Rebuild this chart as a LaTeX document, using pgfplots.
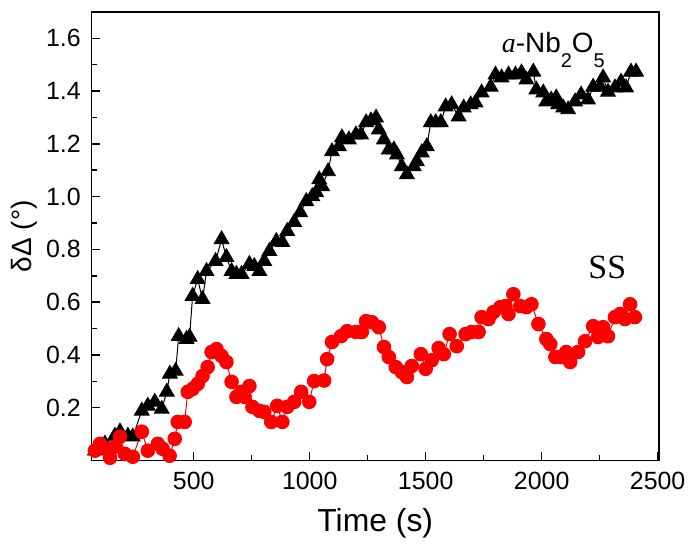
\documentclass[border=0pt]{standalone}
\usepackage{pgfplots}
\pgfplotsset{compat=1.18}
\usepackage{fontspec}
\setmainfont{Liberation Sans}
\newfontfamily\tnr{Liberation Serif}
\definecolor{ssred}{RGB}{255,0,0}

\begin{document}
\begin{tikzpicture}
\begin{axis}[
    scale only axis, width=284.5pt, height=225pt,
    xmin=60, xmax=2505, ymin=0, ymax=1.7,
    xtick={500,1000,...,2500}, minor x tick num=1,
    ytick={0.2,0.4,...,1.6}, minor y tick num=1,
    tick pos=left, tick align=inside,
    major tick length=4pt, minor tick length=2.5pt,
    axis line style={line width=0.75pt},
    every tick/.style={line width=0.75pt, black},
    /pgf/number format/assume math mode=true,
    /pgf/number format/1000 sep={},
    yticklabel style={/pgf/number format/fixed, /pgf/number format/fixed zerofill, /pgf/number format/precision=1, font=\fontsize{12.5}{15}\selectfont, xshift=-2pt},
    xticklabel style={font=\fontsize{12.5}{15}\selectfont, yshift=-2.5pt},
    xlabel={Time (s)}, xlabel style={font=\fontsize{16}{19}\selectfont, at={(axis description cs:0.5,-0.14)}, anchor=center},
    ylabel={δΔ (°)}, ylabel style={font=\fontsize{14}{17}\selectfont, at={(axis description cs:-0.118,0.5)}, anchor=center},
]
% a-Nb2O5
\addplot[black, line width=0.5pt, mark=triangle*, mark size=4.2pt, mark options={solid, fill=black}] coordinates {
(74,0.037) (117,0.063) (160,0.093) (182,0.109) (216,0.093) (237,0.090)
(276,0.188) (302,0.207) (332,0.222) (362,0.195) (384,0.260) (397,0.328)
(422,0.339) (435,0.471) (469,0.460) (482,0.468) (495,0.623) (517,0.687)
(538,0.611) (555,0.717) (594,0.755) (620,0.838) (641,0.770) (663,0.717)
(684,0.706) (706,0.706) (740,0.744) (761,0.736) (783,0.717) (804,0.755)
(826,0.793) (856,0.831) (882,0.827) (903,0.869) (933,0.903) (959,0.940)
(985,0.982) (1011,1.001) (1028,1.016) (1041,1.065) (1053,1.039) (1079,1.095)
(1096,1.171) (1126,1.190) (1139,1.224) (1169,1.216) (1199,1.235) (1221,1.235)
(1243,1.281) (1264,1.288) (1286,1.299) (1298,1.254) (1320,1.216) (1341,1.178)
(1363,1.178) (1376,1.159) (1397,1.114) (1419,1.084) (1449,1.114) (1462,1.133)
(1483,1.167) (1505,1.190) (1522,1.281) (1543,1.281) (1565,1.281) (1586,1.341)
(1612,1.349) (1642,1.303) (1664,1.337) (1694,1.349) (1715,1.356) (1741,1.394)
(1780,1.416) (1801,1.462) (1827,1.451) (1857,1.462) (1887,1.462) (1913,1.470)
(1934,1.443) (1964,1.473) (1977,1.405) (2007,1.394) (2020,1.360) (2041,1.367)
(2063,1.375) (2071,1.349) (2093,1.337) (2114,1.330) (2144,1.360) (2170,1.386)
(2200,1.367) (2222,1.416) (2252,1.416) (2265,1.451) (2286,1.397) (2316,1.413)
(2342,1.435) (2364,1.413) (2385,1.473) (2407,1.473)
};
% SS
\addplot[ssred, line width=0.5pt, mark=*, mark size=3.4pt, mark options={solid, fill=ssred, draw=ssred}] coordinates {
(74,0.037) (96,0.063) (126,0.044) (139,0.010) (160,0.052) (182,0.090)
(203,0.025) (237,0.014) (276,0.109) (302,0.037) (345,0.063) (366,0.044)
(396,0.018) (418,0.082) (431,0.146) (461,0.146) (474,0.260) (495,0.271)
(517,0.290) (538,0.320) (560,0.354) (577,0.411) (598,0.422) (620,0.396)
(641,0.373) (663,0.298) (684,0.241) (706,0.260) (719,0.241) (740,0.282)
(753,0.203) (783,0.188) (804,0.184) (834,0.146) (860,0.207) (882,0.146)
(903,0.203) (933,0.222) (963,0.260) (998,0.222) (1019,0.301) (1062,0.303)
(1075,0.384) (1096,0.449) (1135,0.471) (1161,0.490) (1199,0.487) (1225,0.487)
(1243,0.528) (1268,0.524) (1298,0.505) (1320,0.430) (1341,0.392) (1371,0.354)
(1397,0.335) (1419,0.316) (1440,0.358) (1479,0.403) (1500,0.347) (1526,0.380)
(1556,0.426) (1578,0.403) (1603,0.479) (1634,0.433) (1672,0.479) (1698,0.487)
(1728,0.487) (1741,0.543) (1771,0.536) (1792,0.562) (1822,0.581) (1844,0.585)
(1857,0.555) (1878,0.630) (1908,0.585) (1934,0.581) (1956,0.592) (1986,0.517)
(2020,0.460) (2037,0.441) (2059,0.392) (2084,0.392) (2106,0.411) (2123,0.373)
(2157,0.411) (2187,0.452) (2222,0.509) (2243,0.468) (2265,0.505) (2286,0.471)
(2316,0.543) (2338,0.555) (2359,0.536) (2381,0.592) (2402,0.543)
};
\node[anchor=base west, inner sep=0pt, font=\fontsize{14}{17}\selectfont] at (axis cs:1827,1.545)
  {{\tnr\itshape a}-Nb\raisebox{-7.5pt}{\fontsize{10}{12}\selectfont 2}O\raisebox{-7.5pt}{\fontsize{10}{12}\selectfont 5}};
\node[anchor=base west, inner sep=0pt, font=\fontsize{17}{20}\selectfont\tnr] at (axis cs:2200,0.691) {SS};
\end{axis}
\path[use as bounding box] ([shift={(-46pt,-41pt)}]current axis.south west) rectangle ([shift={(15.5pt,6pt)}]current axis.north east);
\end{tikzpicture}
\end{document}
